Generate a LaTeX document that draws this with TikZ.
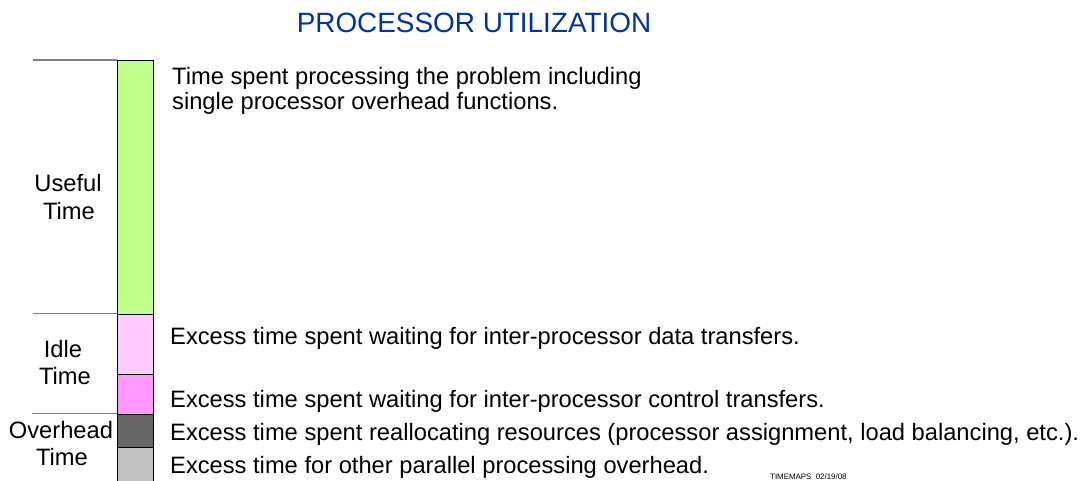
\documentclass[tikz,border=0pt]{standalone}
\usepackage{fontspec}
\setmainfont{Liberation Sans}
\definecolor{titleblue}{RGB}{0,51,160}
\definecolor{usefulgreen}{RGB}{192,255,140}
\definecolor{idlelight}{RGB}{255,204,255}
\definecolor{idlepink}{RGB}{255,153,255}
\definecolor{ovdark}{RGB}{102,102,102}
\definecolor{ovlight}{RGB}{192,192,192}
\definecolor{sepgray}{RGB}{128,128,128}
\begin{document}
\begin{tikzpicture}[x=1pt,y=-1pt,
  seg/.style={draw=black, line width=1pt, inner sep=0pt, minimum width=36pt, anchor=north west},
  body/.style={anchor=base west, inner sep=0pt, font=\fontsize{23.7}{25}\selectfont},
  lab/.style={anchor=base, inner sep=0pt, font=\fontsize{23.7}{25}\selectfont},
  sep/.style={draw=sepgray, line width=1.2pt}]
\useasboundingbox (0,0) rectangle (1084,481);
\begin{scope}
\clip (0,0) rectangle (1084,481);
% title
\node[anchor=base, inner sep=0pt, text=titleblue, font=\fontsize{27.9}{30}\selectfont] (title) at (474,33) {PROCESSOR UTILIZATION};
% bar segments
\node[seg, fill=usefulgreen, minimum height=253.5pt] (useful) at (117,60) {};
\node[seg, fill=idlelight, minimum height=60pt] (idle1) at (117,313.5) {};
\node[seg, fill=idlepink, minimum height=40pt] (idle2) at (117,373.5) {};
\node[seg, fill=ovdark, minimum height=33pt] (ov1) at (117,413.5) {};
\node[seg, fill=ovlight, minimum height=40pt] (ov2) at (117,446.5) {};
% separators
\coordinate (s1a) at (33,60);
\coordinate (s2a) at (33,313.5);
\coordinate (s3a) at (32,413.5);
\draw[sep] (s1a) -- (s1a -| useful.west);
\draw[sep] (s2a) -- (s2a -| useful.west);
\draw[sep] (s3a) -- (s3a -| useful.west);
% group labels
\node[lab] (u1) at (68,192) {Useful};
\node[lab] (u2) at (69,219) {Time};
\node[lab] (i1) at (63,357) {Idle};
\node[lab] (i2) at (65,384) {Time};
\node[lab] (o1) at (61,438) {Overhead};
\node[lab] (o2) at (62,465) {Time};
% descriptions
\node[body] (d1a) at (172,85) {Time spent processing the problem including};
\node[body] (d1b) at (172,110) {single processor overhead functions.};
\node[body] (d2) at (170,344) {Excess time spent waiting for inter-processor data transfers.};
\node[body] (d3) at (170,407) {Excess time spent waiting for inter-processor control transfers.};
\node[body] (d4) at (170,440) {Excess time spent reallocating resources (processor assignment, load balancing, etc.).};
\node[body] (d5) at (170,473) {Excess time for other parallel processing overhead.};
% stamp
\node[anchor=base west, inner sep=0pt, font=\fontsize{7.9}{9}\selectfont] (stamp) at (770,479) {TIMEMAPS\ \ 02/19/08};
\end{scope}
\end{tikzpicture}
\end{document}
